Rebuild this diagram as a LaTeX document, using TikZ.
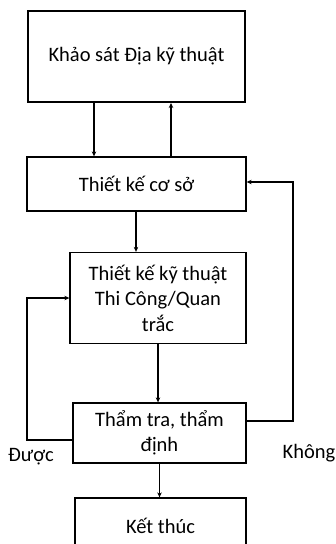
\documentclass[tikz,border=0pt]{standalone}
\usepackage{fontspec}
\setmainfont{Carlito}
\usetikzlibrary{arrows.meta}
\begin{document}
\begin{tikzpicture}[x=1pt,y=-1pt,
  box/.style={draw=black,line width=1.3pt,inner sep=0pt,align=center,
    font=\fontsize{20.5}{25.5}\selectfont},
  conn/.style={line width=1.1pt,-{Stealth[length=5pt,width=4.5pt]}},
  lbl/.style={font=\fontsize{20.5}{25.5}\selectfont,inner sep=0pt}]
\useasboundingbox (0,0) rectangle (336,544);
\node[box,line width=2pt,minimum width=217pt,minimum height=91pt] (b1) at (136.5,56.5) {Khảo sát Địa kỹ thuật};
\node[box,minimum width=219pt,minimum height=54pt] (b2) at (136.5,184) {Thiết kế cơ sở};
\node[box,minimum width=176pt,minimum height=91pt] (b3) at (158,298) {Thiết kế kỹ thuật\\Thi Công/Quan\\trắc};
\node[box,minimum width=173pt,minimum height=60pt] (b4) at (159.5,433) {\raisebox{-2pt}{\parbox{170pt}{\centering Thẩm tra, thẩm\\định}}};
\node[box,minimum width=171pt,minimum height=62pt] (b5) at (160.5,529) {\raisebox{7pt}{Kết thúc}};
\node[lbl] (lduoc) at (31,457) {Được};
\node[lbl] (lkhong) at (309,453) {Không};
\coordinate (xa) at (94,0);
\coordinate (xb) at (171,0);
\coordinate (xc) at (136,0);
\coordinate (yl) at (0,440);
\coordinate (yl2) at (0,298);
\coordinate (yr) at (0,421);
\coordinate (yr2) at (0,182);
\coordinate (ll1) at (27,440);
\coordinate (ll2) at (27,298);
\coordinate (rr1) at (293,421);
\coordinate (rr2) at (293,182);
\draw[conn] (b1.south -| xa) -- (b2.north -| xa);
\draw[conn] (b2.north -| xb) -- (b1.south -| xb);
\draw[conn] (b2.south -| xc) -- (b3.north -| xc);
\draw[conn] (b3.south) -- (b3.south |- b4.north);
\draw[conn] (b4.south) -- (b4.south |- b5.north);
\draw[conn] (b4.west |- yl) -- (ll1) -- (ll2) -- (b3.west |- yl2);
\draw[conn] (b4.east |- yr) -- (rr1) -- (rr2) -- (b2.east |- yr2);
\end{tikzpicture}
\end{document}
